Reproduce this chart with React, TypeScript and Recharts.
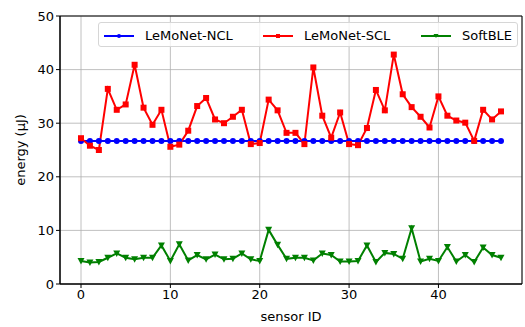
import React from "react";
import {
  LineChart,
  Line,
  XAxis,
  YAxis,
  CartesianGrid,
  ReferenceArea,
} from "recharts";

const sensorIds = Array.from({ length: 48 }, (_, i) => i);

const ncl = [
  26.7, 26.7, 26.7, 26.7, 26.7, 26.7, 26.7, 26.7, 26.7, 26.7, 26.7, 26.7,
  26.7, 26.7, 26.7, 26.7, 26.7, 26.7, 26.7, 26.7, 26.7, 26.7, 26.7, 26.7,
  26.7, 26.7, 26.7, 26.7, 26.7, 26.7, 26.7, 26.7, 26.7, 26.7, 26.7, 26.7,
  26.7, 26.7, 26.7, 26.7, 26.7, 26.7, 26.7, 26.7, 26.7, 26.7, 26.7, 26.7,
];

const scl = [
  27.2, 25.8, 25.0, 36.4, 32.5, 33.5, 40.9, 32.9, 29.7, 32.5, 25.6, 26.0,
  28.6, 33.2, 34.7, 30.7, 30.0, 31.2, 32.5, 26.1, 26.3, 34.4, 32.4, 28.2,
  28.2, 26.1, 40.4, 31.4, 27.3, 32.0, 26.1, 25.9, 29.1, 36.2, 32.4, 42.8,
  35.4, 33.0, 31.2, 29.2, 35.0, 31.4, 30.5, 30.1, 26.7, 32.5, 30.7, 32.2,
];

const softble = [
  4.3, 4.0, 4.1, 4.9, 5.7, 4.9, 4.6, 4.9, 4.9, 7.2, 4.3, 7.4,
  4.4, 5.4, 4.6, 5.5, 4.6, 4.7, 5.7, 4.6, 4.3, 10.1, 7.3, 4.7,
  4.9, 4.9, 4.4, 5.7, 5.4, 4.2, 4.2, 4.3, 7.2, 4.1, 5.8, 5.6,
  4.7, 10.4, 4.2, 4.7, 4.3, 6.9, 4.2, 5.4, 4.1, 6.8, 5.4, 4.9,
];

const xTicks = [0, 10, 20, 30, 40];
const yTicks = [0, 10, 20, 30, 40, 50];

const data = sensorIds.map((id, i) => ({
  id,
  ncl: ncl[i],
  scl: scl[i],
  softble: softble[i],
}));

const FONT = "'DejaVu Sans', sans-serif";

function SquareDot(props: any) {
  const { cx, cy } = props;
  if (cx == null || cy == null) return null;
  return <rect x={cx - 3} y={cy - 3} width={6} height={6} fill="#ff0000" />;
}

function TriangleDot(props: any) {
  const { cx, cy } = props;
  if (cx == null || cy == null) return null;
  return (
    <polygon
      points={`${cx - 3.5},${cy - 3} ${cx + 3.5},${cy - 3} ${cx},${cy + 3.5}`}
      fill="#008000"
    />
  );
}

function LegendItem({
  left,
  color,
  label,
  marker,
}: {
  left: number;
  color: string;
  label: string;
  marker: "circle" | "square" | "triangle";
}) {
  return (
    <div style={{ position: "absolute", left, top: 0, height: 25, display: "flex", alignItems: "center" }}>
      <svg width={30} height={10} style={{ marginRight: 11 }}>
        <line x1={0} y1={5} x2={30} y2={5} stroke={color} strokeWidth={2} />
        {marker === "circle" && <circle cx={15} cy={5} r={2} fill={color} />}
        {marker === "square" && <rect x={13} y={3} width={4} height={4} fill={color} />}
        {marker === "triangle" && <polygon points="12.5,3 17.5,3 15,7" fill={color} />}
      </svg>
      <span style={{ fontFamily: FONT, fontSize: 13, color: "#000" }}>{label}</span>
    </div>
  );
}

export default function App() {
  return (
    <div style={{ position: "absolute", left: 0, top: 0, width: 525, height: 327, background: "#fff" }}>
      <LineChart
        width={525}
        height={327}
        data={data}
        margin={{ top: 16, right: 3, left: 0, bottom: 0 }}
      >
        <CartesianGrid stroke="#b0b0b0" strokeWidth={0.8} />
        <XAxis
          dataKey="id"
          type="number"
          domain={[-2.35, 49.35]}
          ticks={xTicks}
          allowDataOverflow
          height={43}
          tickSize={4}
          tick={{ fill: "#000", fontSize: 13, fontFamily: FONT }}
          tickLine={{ stroke: "#000" }}
          axisLine={{ stroke: "#000" }}
          label={{
            value: "sensor ID",
            position: "insideBottom",
            offset: 6,
            style: { fill: "#000", fontSize: 13, fontFamily: FONT },
          }}
        />
        <YAxis
          type="number"
          domain={[0, 50]}
          ticks={yTicks}
          width={60}
          tickSize={4}
          tick={{ fill: "#000", fontSize: 13, fontFamily: FONT }}
          tickLine={{ stroke: "#000" }}
          axisLine={{ stroke: "#000" }}
          label={{
            value: "energy (μJ)",
            angle: -90,
            position: "insideLeft",
            offset: 20,
            style: { fill: "#000", fontSize: 13, fontFamily: FONT, textAnchor: "middle" },
          }}
        />
        <ReferenceArea x1={-2.35} x2={49.35} y1={0} y2={50} fill="none" stroke="#000" strokeWidth={1} />
        <Line
          dataKey="ncl"
          stroke="#0000ff"
          strokeWidth={2}
          dot={{ r: 3, fill: "#0000ff", stroke: "#0000ff", strokeWidth: 0 }}
          isAnimationActive={false}
        />
        <Line
          dataKey="scl"
          stroke="#ff0000"
          strokeWidth={2}
          dot={<SquareDot />}
          isAnimationActive={false}
        />
        <Line
          dataKey="softble"
          stroke="#008000"
          strokeWidth={2}
          dot={<TriangleDot />}
          isAnimationActive={false}
        />
      </LineChart>
      <div
        style={{
          position: "absolute",
          left: 98,
          top: 22,
          width: 420,
          height: 25,
          boxSizing: "border-box",
          border: "1px solid #d6d6d6",
          borderRadius: 3,
          background: "rgba(255,255,255,0.8)",
        }}
      >
        <LegendItem left={5} color="#0000ff" label="LeMoNet-NCL" marker="circle" />
        <LegendItem left={164} color="#ff0000" label="LeMoNet-SCL" marker="square" />
        <LegendItem left={322} color="#008000" label="SoftBLE" marker="triangle" />
      </div>
    </div>
  );
}
